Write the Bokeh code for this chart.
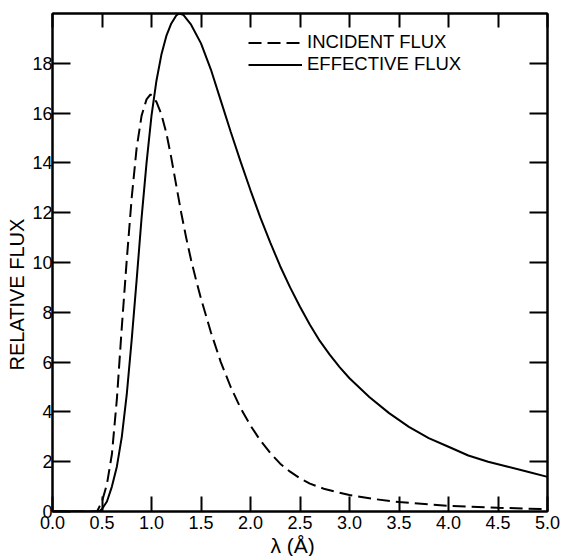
from bokeh.plotting import figure
from bokeh.models import (LinearAxis, FixedTicker, CustomJSTickFormatter, Title, Range1d)
from bokeh.embed import file_html
from bokeh.resources import INLINE

# ---- data ----
lam_inc = [0.0, 0.40, 0.45, 0.50, 0.55, 0.60, 0.65, 0.70, 0.75, 0.80, 0.85, 0.90,
           0.95, 0.99, 1.05, 1.10, 1.15, 1.20, 1.25, 1.30, 1.35, 1.40, 1.45, 1.50,
           1.60, 1.70, 1.80, 1.90, 2.00, 2.10, 2.20, 2.30, 2.40, 2.50, 2.60, 2.75,
           3.00, 3.25, 3.50, 4.00, 4.50, 5.00]
inc = [0.0, 0.0, 0.0, 0.4, 1.1, 2.3, 4.5, 7.4, 10.1, 12.6, 14.6, 15.9,
       16.55, 16.75, 16.45, 15.95, 15.2, 14.2, 13.1, 12.0, 11.0, 10.1, 9.3, 8.55,
       7.2, 6.0, 5.0, 4.15, 3.45, 2.85, 2.35, 1.92, 1.6, 1.33, 1.12, 0.9,
       0.66, 0.5, 0.38, 0.23, 0.15, 0.09]

lam_eff = [0.0, 0.47, 0.50, 0.55, 0.60, 0.65, 0.70, 0.75, 0.80, 0.85, 0.90, 0.95,
           1.00, 1.05, 1.10, 1.15, 1.20, 1.25, 1.28, 1.32, 1.40, 1.50, 1.60, 1.70,
           1.80, 1.90, 2.00, 2.10, 2.20, 2.30, 2.40, 2.50, 2.60, 2.70, 2.80, 2.90,
           3.00, 3.20, 3.40, 3.60, 3.80, 4.00, 4.20, 4.40, 4.60, 4.80, 5.00]
eff = [0.0, 0.0, 0.1, 0.4, 1.0, 1.8, 3.0, 4.7, 6.9, 9.3, 11.8, 14.0,
       15.9, 17.3, 18.35, 19.1, 19.6, 19.92, 20.0, 19.95, 19.55, 18.8, 17.75, 16.5,
       15.25, 14.05, 12.9, 11.8, 10.8, 9.85, 9.0, 8.22, 7.5, 6.85, 6.3, 5.8,
       5.35, 4.6, 3.95, 3.4, 2.95, 2.6, 2.25, 2.0, 1.8, 1.6, 1.39]

x_ticks = [0.0, 0.5, 1.0, 1.5, 2.0, 2.5, 3.0, 3.5, 4.0, 4.5, 5.0]
y_ticks = [0, 2, 4, 6, 8, 10, 12, 14, 16, 18]
y_ticks_right = [2, 4, 6, 8, 10, 12, 14, 16, 18]

series_names = ["INCIDENT FLUX", "EFFECTIVE FLUX"]
x_title = "λ (Å)"
y_title = "RELATIVE FLUX"

FONT = "Liberation Sans"

p = figure(width=562, height=556, x_range=Range1d(0, 5), y_range=Range1d(0, 20),
           output_backend="svg", toolbar_location=None,
           min_border_left=52, min_border_right=15, min_border_top=13,
           min_border_bottom=43)
p.xgrid.visible = False
p.ygrid.visible = False
p.background_fill_color = "white"
p.border_fill_color = "white"
p.outline_line_color = "black"
p.outline_line_width = 2

# curves
p.line(lam_inc, inc, line_color="black", line_width=2, line_dash="13 6",
       legend_label=series_names[0])
p.line(lam_eff, eff, line_color="black", line_width=2,
       legend_label=series_names[1])

def style_axis(ax, tick_len):
    ax.axis_line_color = "black"
    ax.axis_line_width = 2
    ax.major_tick_line_color = "black"
    ax.major_tick_line_width = 2
    ax.major_tick_in = tick_len
    ax.major_tick_out = 0
    ax.minor_tick_line_color = None
    ax.major_label_text_font = FONT
    ax.major_label_text_color = "black"

# bottom axis
xa = p.xaxis[0]
xa.ticker = FixedTicker(ticks=x_ticks)
xa.formatter = CustomJSTickFormatter(code="return tick.toFixed(1);")
style_axis(xa, 15)
xa.major_label_text_font_size = "18px"
xa.major_label_standoff = 4

# left axis
ya = p.yaxis[0]
ya.ticker = FixedTicker(ticks=y_ticks)
style_axis(ya, 18)
ya.major_label_text_font_size = "18px"
ya.major_label_standoff = 0

# top and right axes (ticks only)
top = LinearAxis(ticker=FixedTicker(ticks=x_ticks),
                 formatter=CustomJSTickFormatter(code="return '';"))
style_axis(top, 14)
top.major_label_text_font_size = "0px"
top.major_label_standoff = 0
p.add_layout(top, "above")

right = LinearAxis(ticker=FixedTicker(ticks=y_ticks_right),
                   formatter=CustomJSTickFormatter(code="return '';"))
style_axis(right, 18)
right.major_label_text_font_size = "0px"
right.major_label_standoff = 0
p.add_layout(right, "right")

# axis titles as side titles (allow offset control)
p.add_layout(Title(text=y_title, align="left", offset=141, standoff=4,
                   text_font=FONT, text_font_size="20px",
                   text_font_style="normal", text_color="black"), "left")
p.add_layout(Title(text=x_title, align="left", offset=218, standoff=0,
                   text_font=FONT, text_font_size="21px",
                   text_font_style="normal", text_color="black"), "below")

# legend
lg = p.legend[0]
lg.location = (196, 436)
lg.background_fill_alpha = 0
lg.border_line_color = None
lg.padding = 0
lg.margin = 0
lg.spacing = -3
lg.glyph_width = 54
lg.glyph_height = 19
lg.label_height = 19
lg.label_standoff = 5
lg.label_text_font = FONT
lg.label_text_font_size = "18.5px"
lg.label_text_color = "black"

open("out.html", "w").write(file_html(p, INLINE))
